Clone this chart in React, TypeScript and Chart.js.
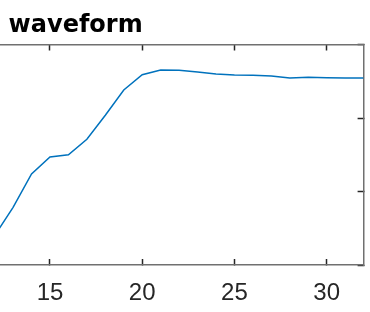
import { useEffect, useRef } from 'react';
import { Chart, registerables } from 'chart.js';

Chart.register(...registerables);

const titleText = 'waveform';
const sampleIndex = [12, 13, 14, 15, 16, 17, 18, 19, 20, 21, 22, 23, 24, 25, 26, 27, 28, 29, 30, 31, 32];
const waveform = [0.40, 0.785, 1.238, 1.469, 1.50, 1.71, 2.037, 2.381, 2.589, 2.653, 2.649, 2.626, 2.599, 2.585, 2.581, 2.571, 2.544, 2.554, 2.548, 2.544, 2.544];
const xTickValues = [5, 10, 15, 20, 25, 30];
const yTickValues = [0, 1, 2, 3];
const xRange = [1, 32];
const yRange = [0, 3];

export default function App() {
  const ref = useRef<HTMLCanvasElement>(null);

  useEffect(() => {
    const canvas = ref.current;
    if (!canvas) return;
    const borderColor = '#707070';
    const tickColor = '#262626';
    const lineBlue = '#0072BD';

    const titlePlugin = {
      id: 'axesTitle',
      afterDraw(chart: any) {
        const { ctx, chartArea } = chart;
        ctx.save();
        ctx.font = 'bold 24px "DejaVu Sans", sans-serif';
        ctx.fillStyle = '#000000';
        ctx.textAlign = 'center';
        ctx.textBaseline = 'alphabetic';
        ctx.fillText(titleText, (chartArea.left + chartArea.right) / 2 - 2, 31.7);
        ctx.restore();
      },
    };

    const setTicks = (values: number[]) => (scale: any) => {
      scale.ticks = values.map((v) => ({ value: v }));
    };

    const hiddenGrid = (len: number) => ({
      drawOnChartArea: false,
      drawTicks: true,
      tickLength: len,
      tickColor: tickColor,
      tickWidth: 1.5,
    });

    const chart = new Chart(canvas, {
      type: 'line',
      data: {
        datasets: [
          {
            label: titleText,
            data: sampleIndex.map((x, i) => ({ x, y: waveform[i] })),
            borderColor: lineBlue,
            backgroundColor: lineBlue,
            borderWidth: 1.5,
            pointRadius: 0,
            tension: 0,
            fill: false,
            xAxisID: 'x',
            yAxisID: 'y',
          },
        ],
      },
      options: {
        responsive: false,
        animation: false,
        devicePixelRatio: 1,
        layout: { padding: { top: 44.5, left: 0, right: 0, bottom: 0 } },
        plugins: {
          legend: { display: false },
          title: { display: false },
          tooltip: { enabled: false },
        },
        scales: {
          x: {
            type: 'linear',
            position: 'bottom',
            min: xRange[0],
            max: xRange[1],
            afterBuildTicks: setTicks(xTickValues),
            afterFit: (s: any) => { s.height = 47; },
            grid: hiddenGrid(-6),
            border: { display: true, color: borderColor, width: 1.5 },
            ticks: {
              color: tickColor,
              padding: 20,
              maxRotation: 0,
              autoSkip: false,
              font: { family: '"Liberation Sans", Arial, sans-serif', size: 24 },
            },
          },
          x2: {
            type: 'linear',
            position: 'top',
            min: xRange[0],
            max: xRange[1],
            afterBuildTicks: setTicks(xTickValues),
            afterFit: (s: any) => { s.height = 0; },
            grid: hiddenGrid(-6),
            border: { display: true, color: borderColor, width: 1.5 },
            ticks: { display: false },
          },
          y: {
            type: 'linear',
            position: 'left',
            min: yRange[0],
            max: yRange[1],
            afterBuildTicks: setTicks(yTickValues),
            afterFit: (s: any) => { s.width = 6.7; },
            grid: hiddenGrid(-6),
            border: { display: true, color: borderColor, width: 1.5 },
            ticks: { display: false },
          },
          y2: {
            type: 'linear',
            position: 'right',
            min: yRange[0],
            max: yRange[1],
            afterBuildTicks: setTicks(yTickValues),
            afterFit: (s: any) => { s.width = 1.4; },
            grid: hiddenGrid(-6),
            border: { display: true, color: borderColor, width: 1.5 },
            ticks: { display: false },
          },
        },
      },
      plugins: [titlePlugin],
    } as any);

    return () => {
      chart.destroy();
    };
  }, []);

  return (
    <div style={{ position: 'absolute', left: -215, top: 0, width: 580, height: 312 }}>
      <canvas ref={ref} width={580} height={312} style={{ display: 'block' }} />
    </div>
  );
}
